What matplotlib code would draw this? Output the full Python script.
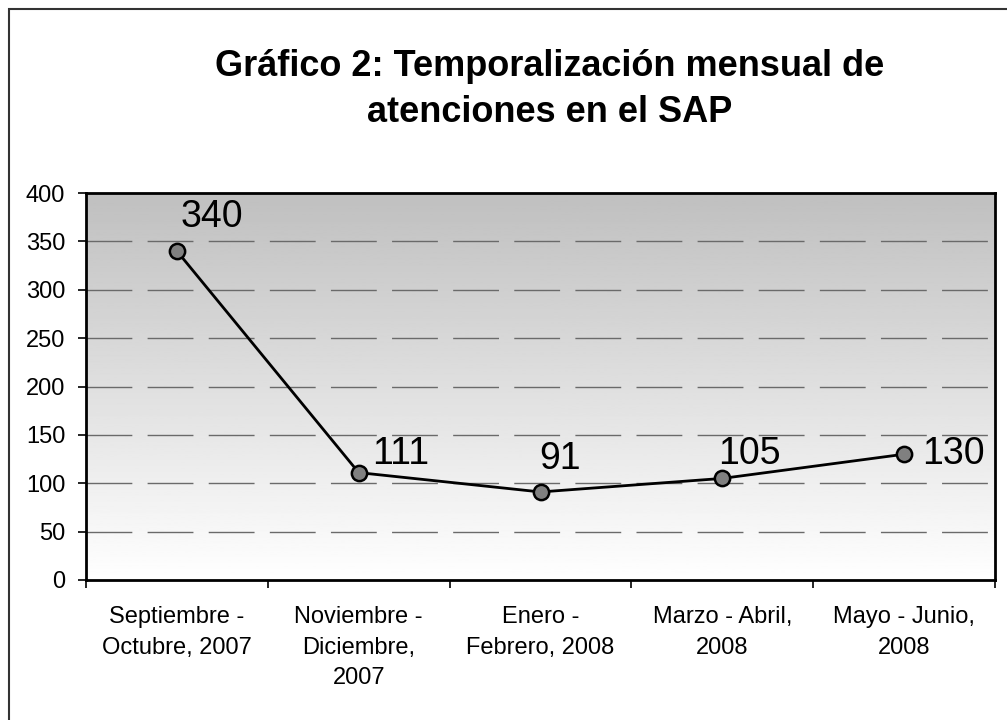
import numpy as np
import matplotlib
matplotlib.use('Agg')
from matplotlib import pyplot as plt
from matplotlib.patches import Rectangle

# Datos del gráfico
periodos = ['Septiembre -\nOctubre, 2007', 'Noviembre -\nDiciembre,\n2007',
            'Enero -\nFebrero, 2008', 'Marzo - Abril,\n2008', 'Mayo - Junio,\n2008']
atenciones = [340, 111, 91, 105, 130]
y_ticks = [0, 50, 100, 150, 200, 250, 300, 350, 400]
titulo = ['Gráfico 2: Temporalización mensual de', 'atenciones en el SAP']

# Desplazamiento (px) de las etiquetas de datos
offsets = [(35, 34), (42, 19), (20, 33), (27, 24), (49, 0)]

plt.rcParams['font.family'] = ['Liberation Sans', 'DejaVu Sans']

fig = plt.figure(figsize=(10.07, 7.2), dpi=100)
fig.patches.append(Rectangle((9 / 1007, -0.1), 1.2, 1.1 - 9 / 720,
                             transform=fig.transFigure, fill=False,
                             edgecolor='#333333', linewidth=1.5))

ax = fig.add_axes([86 / 1007, 1 - 580 / 720, (995 - 86) / 1007, (580 - 193) / 720])

# Fondo degradado gris -> blanco
grad = np.linspace(1.0, 0.75, 256).reshape(-1, 1)
ax.imshow(grad, extent=[-0.5, 4.5, 0, 400], origin='lower', aspect='auto',
          cmap='gray', vmin=0, vmax=1, zorder=0)

x = np.arange(len(periodos))
for yv in y_ticks[1:-1]:
    ax.axhline(yv, color='#6a6a6a', linewidth=1, dashes=(33, 11), zorder=1)

ax.plot(x, atenciones, color='black', linewidth=2.0, marker='o', markersize=11,
        markerfacecolor='#808080', markeredgecolor='black', markeredgewidth=1.8, zorder=3)

for xi, yi, (dx, dy) in zip(x, atenciones, offsets):
    ax.annotate(str(yi), (xi, yi), xytext=(dx * 0.72, dy * 0.72), textcoords='offset points',
                ha='center', va='center', fontsize=27, zorder=4)

ax.set_xlim(-0.5, 4.5)
ax.set_ylim(0, 400)
ax.set_yticks(y_ticks)
ax.set_xticks(np.arange(-0.5, 5, 1))
ax.set_xticklabels([])
ax.set_xticks(x, minor=True)
ax.set_xticklabels(periodos, minor=True, fontsize=17, linespacing=1.5, va='top')
ax.tick_params(axis='x', which='minor', length=0, pad=19)
ax.tick_params(axis='x', which='major', length=6, width=1.2, direction='out')
ax.tick_params(axis='y', length=6, width=1.2, pad=9, labelsize=17)

for s in ax.spines.values():
    s.set_linewidth(2)
    s.set_color('black')

fig.text(550 / 1007, 1 - 76 / 720, titulo[0], ha='center', va='baseline',
         fontsize=26, fontweight='bold')
fig.text(550 / 1007, 1 - 122 / 720, titulo[1], ha='center', va='baseline',
         fontsize=26, fontweight='bold')

fig.savefig('out.png', dpi=100)
